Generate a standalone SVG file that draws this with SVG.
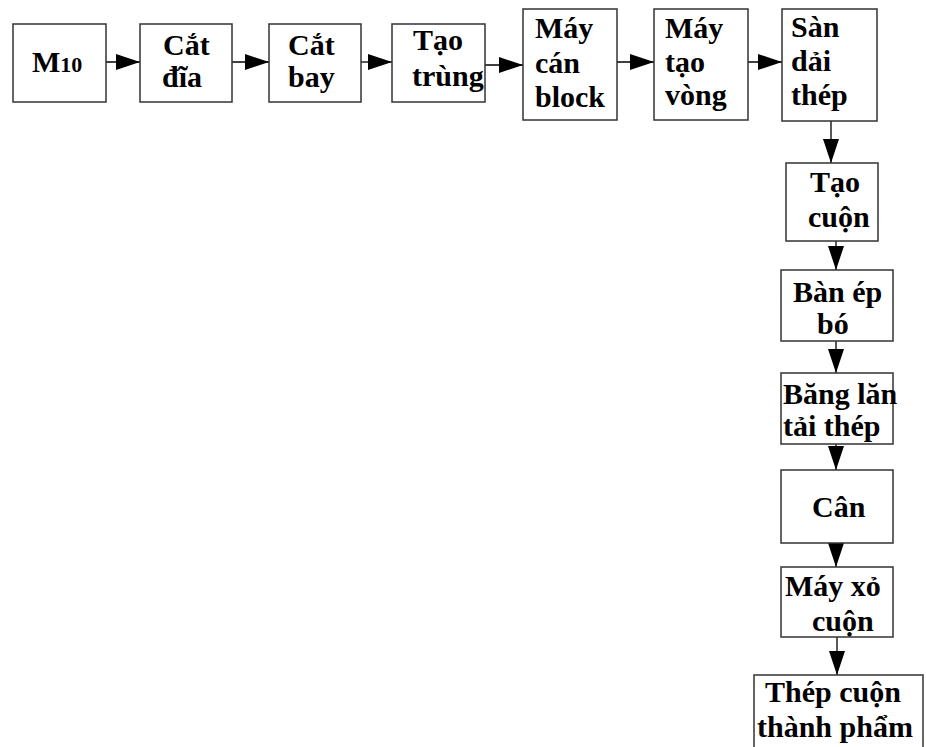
<svg xmlns="http://www.w3.org/2000/svg" width="926" height="747" viewBox="0 0 926 747">
<style>
rect.b{fill:#fff;stroke:#333;stroke-width:1.5}
text{font-family:"Liberation Serif","Times New Roman",serif;font-weight:bold;font-size:30px;fill:#000}
.c line{stroke:#000;stroke-width:1.3}
</style>
<defs>
<marker id="ah" markerUnits="userSpaceOnUse" markerWidth="24" markerHeight="16" refX="24" refY="8" orient="auto">
<path d="M0,0 L24,8 L0,16 z" fill="#000"/>
</marker>
</defs>
<rect width="926" height="747" fill="#fff"/>
<g class="c" id="connectors">
<line x1="106" y1="62" x2="140" y2="62" marker-end="url(#ah)"/>
<line x1="232" y1="62" x2="269" y2="62" marker-end="url(#ah)"/>
<line x1="361" y1="62" x2="392" y2="62" marker-end="url(#ah)"/>
<line x1="485" y1="65" x2="523" y2="65" marker-end="url(#ah)"/>
<line x1="617" y1="62" x2="654" y2="62" marker-end="url(#ah)"/>
<line x1="748" y1="62" x2="782" y2="62" marker-end="url(#ah)"/>
<line x1="831" y1="121" x2="831" y2="163" marker-end="url(#ah)"/>
<line x1="836" y1="241" x2="836" y2="270" marker-end="url(#ah)"/>
<line x1="836" y1="341" x2="836" y2="373" marker-end="url(#ah)"/>
<line x1="836" y1="444" x2="836" y2="470" marker-end="url(#ah)"/>
<line x1="836" y1="543" x2="836" y2="567" marker-end="url(#ah)"/>
<line x1="837" y1="637" x2="837" y2="675" marker-end="url(#ah)"/>
</g>
<g id="m10"><rect class="b" x="13" y="24" width="93" height="78"/><text x="32" y="72">M<tspan font-size="22">10</tspan></text></g>
<g id="catdia"><rect class="b" x="140" y="24" width="92" height="78"/><text x="163" y="55">Cắt</text><text x="162" y="87">đĩa</text></g>
<g id="catbay"><rect class="b" x="269" y="24" width="92" height="78"/><text x="288" y="55">Cắt</text><text x="288" y="87">bay</text></g>
<g id="taotrung"><rect class="b" x="392" y="24" width="93" height="78"/><text x="413" y="50">Tạo</text><text x="412" y="86">trùng</text></g>
<g id="maycan"><rect class="b" x="523" y="9" width="94" height="111"/><text x="535" y="38">Máy</text><text x="535" y="73">cán</text><text x="535" y="107">block</text></g>
<g id="maytaovong"><rect class="b" x="654" y="9" width="94" height="111"/><text x="665" y="38">Máy</text><text x="665" y="72">tạo</text><text x="665" y="105">vòng</text></g>
<g id="sandai"><rect class="b" x="782" y="9" width="95" height="112"/><text x="791" y="37">Sàn</text><text x="791" y="71">dải</text><text x="791" y="105">thép</text></g>
<g id="taocuon"><rect class="b" x="786" y="163" width="92" height="78"/><text x="810" y="192">Tạo</text><text x="808" y="227">cuộn</text></g>
<g id="banep"><rect class="b" x="781" y="270" width="112" height="71"/><text x="793" y="302">Bàn ép</text><text x="817" y="334">bó</text></g>
<g id="banglan"><rect class="b" x="781" y="373" width="112" height="71"/><text x="783" y="404" font-size="29">Băng lăn</text><text x="783" y="436">tải thép</text></g>
<g id="can"><rect class="b" x="781" y="470" width="112" height="73"/><text x="812" y="517">Cân</text></g>
<g id="mayxo"><rect class="b" x="781" y="567" width="112" height="70"/><text x="785" y="596">Máy xỏ</text><text x="812" y="631">cuộn</text></g>
<g id="thepcuon"><rect class="b" x="754" y="675" width="169" height="85"/><text x="765" y="702">Thép cuộn</text><text x="757" y="737" font-size="31">thành phẩm</text></g>
</svg>
